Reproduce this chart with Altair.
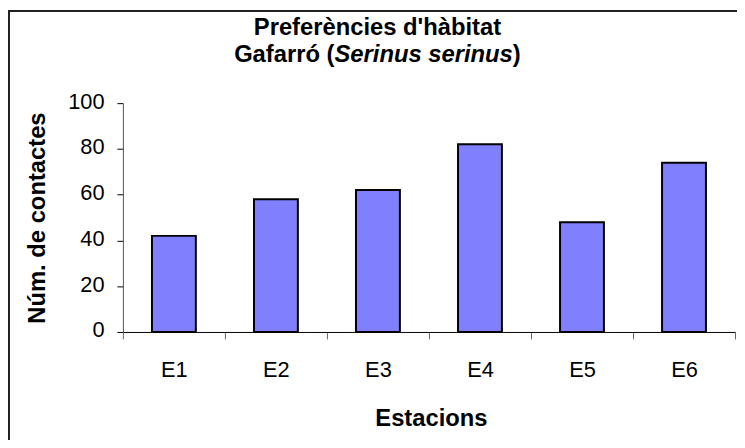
import altair as alt
import pandas as pd

# ---- data ----
stations = ["E1", "E2", "E3", "E4", "E5", "E6"]
contacts = [42, 58, 62, 82, 48, 74]
y_ticks = [0, 20, 40, 60, 80, 100]

title_line1 = "Preferències d'hàbitat"
title_line2_a = "Gafarró ("
title_line2_b = "Serinus serinus"
title_line2_c = ")"
x_title = "Estacions"
y_title = "Núm. de contactes"

FONT = "Liberation Sans"
W, H = 618, 231
TFS = 24  # title font size

df = pd.DataFrame({"station": stations, "contacts": contacts})
one = pd.DataFrame({"a": [0]})

# title layout (plot-relative pixels)
CX = 257
w1 = 4.223 * TFS
w2 = 7.503 * TFS
w3 = 0.333 * TFS
x_start = CX - (w1 + w2 + w3) / 2
x_a = x_start + w1
x_b = x_a + w2

border = alt.Chart(one).mark_rect(
    fill="white", fillOpacity=0, stroke="#222", strokeWidth=2
).encode(
    x=alt.value(-115), x2=alt.value(W + 40),
    y=alt.value(-93), y2=alt.value(H + 150),
)

bars = alt.Chart(df).mark_bar(
    color="#8080FF", stroke="#000", strokeWidth=2,
    width=alt.RelativeBandSize(0.43),
).encode(
    x=alt.X(
        "station:N", sort=stations,
        scale=alt.Scale(paddingInner=0, paddingOuter=0),
        axis=alt.Axis(
            title=x_title, labelAngle=0, tickBand="extent",
            domainColor="#000", domainWidth=1, tickColor="#666", tickSize=7,
            labelFont=FONT, labelFontSize=22, labelColor="#000",
            labelBaseline="alphabetic", labelPadding=38,
            titleFont=FONT, titleFontSize=24, titleFontWeight="bold",
            titleColor="#000", titleX=311, titleY=94,
            titleBaseline="alphabetic", titleAlign="center", grid=False,
        ),
    ),
    y=alt.Y(
        "contacts:Q",
        scale=alt.Scale(domain=[0, 100], nice=False),
        axis=alt.Axis(
            title=y_title, values=y_ticks, grid=False,
            domainColor="#555", tickColor="#000", tickSize=6,
            labelFont=FONT, labelFontSize=22, labelColor="#000",
            labelPadding=13, labelOffset=-2,
            titleFont=FONT, titleFontSize=24, titleFontWeight="bold",
            titleColor="#000", titleX=-79, titleY=H / 2, titleAngle=270,
            titleBaseline="alphabetic", titleAlign="center",
        ),
    ),
)

def txt(s, x, y, align, italic=False):
    return alt.Chart(pd.DataFrame({"t": [s]})).mark_text(
        font=FONT, fontSize=TFS, fontWeight="bold",
        fontStyle="italic" if italic else "normal",
        align=align, baseline="alphabetic", color="#000",
    ).encode(text="t:N", x=alt.value(x), y=alt.value(y))

t1 = txt(title_line1, CX, -69, "center")
t2a = txt(title_line2_a, x_a, -42, "right")
t2b = txt(title_line2_b, x_a, -42, "left", italic=True)
t2c = txt(title_line2_c, x_b, -42, "left")

chart = alt.layer(border, bars, t1, t2a, t2b, t2c).properties(
    width=W, height=H,
    padding={"left": 116, "top": 94, "right": 2, "bottom": 107},
    autosize=alt.AutoSizeParams(type="none"),
    background="white",
).configure_view(stroke=None)

chart.save("out.html", embed_options={"renderer": "svg", "actions": False})
